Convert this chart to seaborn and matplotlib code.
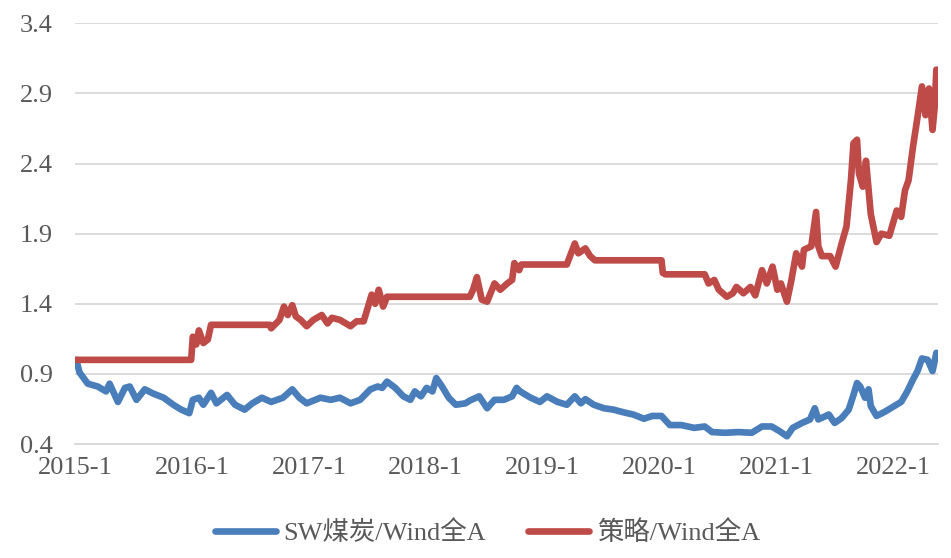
import pandas as pd
import matplotlib.pyplot as plt
import seaborn as sns

# 数据
coal_dates = [
    "2015-01-05", "2015-01-15", "2015-02-10", "2015-03-13", "2015-04-08", "2015-04-19",
    "2015-05-15", "2015-06-06", "2015-06-21", "2015-07-12", "2015-08-07", "2015-09-02",
    "2015-10-05", "2015-11-04", "2015-11-29", "2015-12-24", "2016-01-04", "2016-01-23",
    "2016-02-06", "2016-03-01", "2016-03-18", "2016-04-20", "2016-05-15", "2016-06-14",
    "2016-07-08", "2016-08-07", "2016-09-05", "2016-10-12", "2016-11-10", "2016-12-02",
    "2016-12-25", "2017-02-06", "2017-03-10", "2017-04-08", "2017-05-11", "2017-06-10",
    "2017-07-12", "2017-08-04", "2017-08-18", "2017-09-02", "2017-09-28", "2017-10-23",
    "2017-11-14", "2017-11-28", "2017-12-17", "2018-01-04", "2018-01-22", "2018-02-03",
    "2018-02-21", "2018-03-14", "2018-04-05", "2018-05-05", "2018-05-19", "2018-06-17",
    "2018-07-12", "2018-08-04", "2018-09-02", "2018-09-28", "2018-10-12", "2018-10-23",
    "2018-11-25", "2018-12-24", "2019-01-15", "2019-02-17", "2019-03-18", "2019-04-12",
    "2019-05-01", "2019-05-15", "2019-06-10", "2019-07-12", "2019-08-11", "2019-09-13",
    "2019-10-12", "2019-11-14", "2019-12-10", "2020-01-08", "2020-02-03", "2020-03-10",
    "2020-04-19", "2020-05-22", "2020-06-14", "2020-07-23", "2020-09-05", "2020-10-16",
    "2020-11-17", "2020-12-17", "2021-01-12", "2021-02-03", "2021-02-21", "2021-03-22",
    "2021-04-16", "2021-05-01", "2021-05-12", "2021-06-14", "2021-07-02", "2021-07-24",
    "2021-08-15", "2021-08-30", "2021-09-10", "2021-09-20", "2021-10-05", "2021-10-16",
    "2021-10-23", "2021-11-10", "2021-12-06", "2022-01-04", "2022-01-26", "2022-02-14",
    "2022-03-04", "2022-03-18", "2022-04-01", "2022-04-19", "2022-05-04", "2022-05-16",
    "2022-05-20",
]
coal_values = [
    1.00, 0.91, 0.83, 0.81, 0.775, 0.83,
    0.70, 0.80, 0.81, 0.715, 0.79, 0.76,
    0.73, 0.68, 0.645, 0.62, 0.715, 0.73,
    0.68, 0.765, 0.69, 0.75, 0.68, 0.645,
    0.69, 0.73, 0.70, 0.73, 0.79, 0.73,
    0.69, 0.73, 0.715, 0.73, 0.69, 0.715,
    0.79, 0.81, 0.80, 0.845, 0.80, 0.74,
    0.715, 0.775, 0.74, 0.80, 0.775, 0.87,
    0.81, 0.73, 0.68, 0.69, 0.71, 0.74,
    0.655, 0.715, 0.715, 0.74, 0.80, 0.775,
    0.73, 0.70, 0.74, 0.70, 0.68, 0.74,
    0.69, 0.72, 0.68, 0.655, 0.645, 0.625,
    0.61, 0.58, 0.60, 0.60, 0.535, 0.535,
    0.515, 0.525, 0.485, 0.48, 0.485, 0.48,
    0.525, 0.525, 0.49, 0.455, 0.515, 0.55,
    0.575, 0.655, 0.575, 0.61, 0.55, 0.585,
    0.645, 0.75, 0.835, 0.81, 0.73, 0.79,
    0.67, 0.60, 0.63, 0.67, 0.70, 0.775,
    0.86, 0.92, 1.01, 1.00, 0.92, 1.05,
    1.01,
]

strategy_dates = [
    "2015-01-05", "2015-12-30", "2016-01-04", "2016-01-15", "2016-01-23", "2016-02-06",
    "2016-02-20", "2016-03-01", "2016-09-01", "2016-09-05", "2016-10-01", "2016-10-15",
    "2016-10-27", "2016-11-10", "2016-11-21", "2016-12-06", "2016-12-25", "2017-01-15",
    "2017-02-10", "2017-02-28", "2017-03-14", "2017-04-08", "2017-05-11", "2017-05-30",
    "2017-06-21", "2017-07-05", "2017-07-16", "2017-07-27", "2017-08-07", "2017-08-21",
    "2017-09-02", "2018-05-19", "2018-05-29", "2018-06-10", "2018-06-25", "2018-07-12",
    "2018-08-04", "2018-08-22", "2018-09-13", "2018-09-28", "2018-10-05", "2018-10-20",
    "2018-10-27", "2019-03-18", "2019-03-28", "2019-04-12", "2019-04-23", "2019-05-15",
    "2019-05-30", "2019-06-14", "2020-01-08", "2020-01-12", "2020-01-20", "2020-05-22",
    "2020-06-03", "2020-06-21", "2020-07-05", "2020-07-30", "2020-08-18", "2020-08-29",
    "2020-09-20", "2020-10-12", "2020-10-27", "2020-11-17", "2020-12-02", "2020-12-20",
    "2021-01-04", "2021-01-15", "2021-02-03", "2021-02-17", "2021-03-04", "2021-03-22",
    "2021-03-28", "2021-04-20", "2021-05-05", "2021-05-12", "2021-05-23", "2021-06-18",
    "2021-07-05", "2021-07-24", "2021-08-08", "2021-08-22", "2021-08-30", "2021-09-10",
    "2021-09-16", "2021-09-28", "2021-10-08", "2021-10-23", "2021-11-10", "2021-11-25",
    "2021-12-20", "2022-01-12", "2022-01-26", "2022-02-07", "2022-02-18", "2022-03-04",
    "2022-03-18", "2022-04-01", "2022-04-12", "2022-04-23", "2022-05-04", "2022-05-11",
    "2022-05-16", "2022-05-20",
]
strategy_values = [
    1.00, 1.00, 1.165, 1.11, 1.21, 1.12,
    1.145, 1.25, 1.25, 1.225, 1.285, 1.38,
    1.32, 1.39, 1.31, 1.285, 1.24, 1.285,
    1.32, 1.26, 1.30, 1.285, 1.24, 1.275,
    1.275, 1.38, 1.465, 1.40, 1.50, 1.38,
    1.45, 1.45, 1.50, 1.59, 1.43, 1.415,
    1.545, 1.50, 1.545, 1.57, 1.69, 1.64,
    1.68, 1.68, 1.74, 1.83, 1.76, 1.795,
    1.74, 1.71, 1.71, 1.62, 1.61, 1.61,
    1.545, 1.57, 1.50, 1.45, 1.475, 1.52,
    1.475, 1.52, 1.46, 1.64, 1.545, 1.665,
    1.50, 1.545, 1.415, 1.57, 1.76, 1.665,
    1.785, 1.81, 2.055, 1.81, 1.74, 1.74,
    1.665, 1.83, 1.95, 2.28, 2.545, 2.57,
    2.33, 2.235, 2.42, 2.04, 1.84, 1.90,
    1.885, 2.065, 2.02, 2.21, 2.28, 2.52,
    2.73, 2.95, 2.745, 2.935, 2.64, 2.81,
    3.07, 2.92,
]

series_names = ["SW煤炭/Wind全A", "策略/Wind全A"]
tick_years = [2015, 2016, 2017, 2018, 2019, 2020, 2021, 2022]
tick_labels = [f"{y}-1" for y in tick_years]
y_ticks = [0.4, 0.9, 1.4, 1.9, 2.4, 2.9, 3.4]

df = pd.concat([
    pd.DataFrame({"date": pd.to_datetime(coal_dates), "value": coal_values, "series": series_names[0]}),
    pd.DataFrame({"date": pd.to_datetime(strategy_dates), "value": strategy_values, "series": series_names[1]}),
], ignore_index=True)

sns.set_style("white")
plt.rcParams["font.family"] = ["Liberation Serif", "Noto Sans CJK SC"]
plt.rcParams["axes.unicode_minus"] = False

fig = plt.figure(figsize=(9.51, 5.58), dpi=100)
ax = fig.add_axes([0.0789, 0.2043, 0.9074, 0.7539])

sns.lineplot(data=df, x="date", y="value", hue="series", hue_order=series_names,
             palette=["#4A7EBB", "#BE4B48"], linewidth=4.8, legend=False, ax=ax,
             solid_capstyle="round", solid_joinstyle="round")

ax.set_xlim(pd.Timestamp("2015-01-01"), pd.Timestamp("2022-05-21"))
ax.set_ylim(0.4, 3.4)
ax.set_yticks(y_ticks)
ax.set_yticklabels([f"{v:.1f}" for v in y_ticks])
ax.set_xticks([pd.Timestamp(f"{y}-01-01") for y in tick_years])
ax.set_xticklabels(tick_labels)
ax.set_xlabel("")
ax.set_ylabel("")

ax.grid(axis="y", color="#D9D9D9", linewidth=1.3)
ax.set_axisbelow(True)
for s in ["top", "right", "left"]:
    ax.spines[s].set_visible(False)
ax.spines["bottom"].set_color("#D9D9D9")
ax.spines["bottom"].set_linewidth(1.3)

ax.tick_params(axis="x", length=5, width=1.3, color="#D9D9D9", pad=4,
               labelsize=19, labelcolor="#595959")
ax.tick_params(axis="y", length=0, pad=16, labelsize=19, labelcolor="#595959")

# 图例
handles = [plt.Line2D([], [], color=c, linewidth=4.8, solid_capstyle="round")
           for c in ["#4A7EBB", "#BE4B48"]]
fig.legend(handles, series_names, loc="center", bbox_to_anchor=(0.5126, 0.045),
           ncol=2, frameon=False, fontsize=19, handlelength=2.3, handletextpad=0.3,
           columnspacing=1.6, labelcolor="#595959")

fig.savefig("out.png", dpi=100)
